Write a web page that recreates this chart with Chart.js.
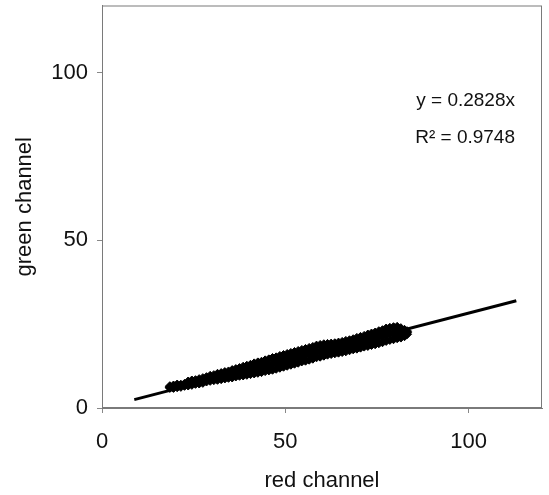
<!DOCTYPE html>
<html>
<head>
<meta charset="utf-8">
<script src="https://cdn.jsdelivr.net/npm/chart.js@4.4.1/dist/chart.umd.min.js"></script>
<style>
  html, body { margin: 0; padding: 0; background: #fff; }
  canvas { display: block; }
</style>
</head>
<body>
<canvas id="rgChart" width="549" height="495"></canvas>
<script>
// pixel clusters: red value, and lower / middle / upper green values
const redValues = [
  18.5, 19.5, 20.5, 21.5, 22.5, 23.5, 24.5, 25.5, 26.5, 27.5,
  28.5, 29.5, 30.5, 31.5, 32.5, 33.5, 34.5, 35.5, 36.5, 37.5,
  38.5, 39.5, 40.5, 41.5, 42.5, 43.5, 44.5, 45.5, 46.5, 47.5,
  48.5, 49.5, 50.5, 51.5, 52.5, 53.5, 54.5, 55.5, 56.5, 57.5,
  58.5, 59.5, 60.5, 61.5, 62.5, 63.5, 64.5, 65.5, 66.5, 67.5,
  68.5, 69.5, 70.5, 71.5, 72.5, 73.5, 74.5, 75.5, 76.5, 77.5,
  78.5, 79.5, 80.5, 81.5, 82.5, 83.2
];
const greenLower = [
  6.0, 6.0, 6.2, 6.3, 6.6, 6.7, 6.9, 7.2, 7.3, 7.5,
  7.9, 8.1, 8.3, 8.4, 8.6, 8.8, 9.0, 9.1, 9.4, 9.6,
  9.7, 9.9, 10.1, 10.3, 10.5, 10.7, 11.0, 11.2, 11.4, 11.7,
  12.0, 12.3, 12.6, 12.9, 13.2, 13.5, 13.9, 14.1, 14.4, 14.7,
  15.1, 15.3, 15.6, 15.9, 16.1, 16.3, 16.5, 16.7, 16.9, 17.2,
  17.5, 17.7, 18.0, 18.3, 18.5, 18.8, 19.0, 19.3, 19.6, 20.0,
  20.3, 20.5, 20.8, 21.0, 21.4, 22.0
];
const greenMiddle = [
  6.2, 6.5, 6.5, 6.8, 6.9, 7.4, 7.6, 7.7, 8.1, 8.2,
  8.7, 8.8, 9.2, 9.4, 9.6, 9.8, 10.1, 10.2, 10.6, 10.8,
  11.0, 11.3, 11.6, 11.8, 12.1, 12.4, 12.6, 12.8, 13.2, 13.4,
  13.8, 14.0, 14.4, 14.7, 15.0, 15.3, 15.6, 15.9, 16.2, 16.5,
  16.8, 17.0, 17.3, 17.5, 17.7, 17.9, 18.0, 18.2, 18.5, 18.7,
  19.0, 19.3, 19.6, 19.9, 20.2, 20.5, 20.8, 21.2, 21.5, 21.9,
  22.1, 22.3, 22.4, 22.3, 22.4, 22.5
];
const greenUpper = [
  6.5, 6.7, 7.0, 6.9, 7.2, 7.9, 8.2, 8.3, 8.6, 8.9,
  9.2, 9.6, 9.8, 10.2, 10.4, 10.7, 10.9, 11.3, 11.6, 11.9,
  12.3, 12.6, 12.9, 13.3, 13.6, 13.8, 14.2, 14.5, 14.9, 15.1,
  15.5, 15.8, 16.1, 16.4, 16.7, 17.0, 17.3, 17.6, 17.9, 18.2,
  18.6, 18.8, 19.0, 19.1, 19.2, 19.3, 19.5, 19.7, 20.0, 20.2,
  20.5, 20.9, 21.2, 21.5, 21.9, 22.2, 22.5, 22.9, 23.2, 23.7,
  23.9, 24.1, 24.2, 23.8, 23.3, 22.9
];

// trend line end points (y = 0.2828x)
const trendRed = [8.8, 113];
const trendGreen = [2.49, 31.96];

const axisTicks = [0, 50, 100];
const equationText = "y = 0.2828x";
const rSquaredText = "R\u00B2 = 0.9748";

const FONT = "'Liberation Sans', Arial, sans-serif";

const points = [];
redValues.forEach((r, i) => {
  points.push({ x: r, y: greenLower[i] });
  points.push({ x: r, y: greenMiddle[i] });
  points.push({ x: r, y: greenUpper[i] });
});

const trendPoints = trendRed.map((r, i) => ({ x: r, y: trendGreen[i] }));

const framePlugin = {
  id: "frame",
  afterDraw(chart) {
    const { ctx, chartArea: a } = chart;
    ctx.save();
    ctx.strokeStyle = "#7a7a7a";
    ctx.lineWidth = 1;
    ctx.strokeRect(a.left + 0.5, a.top + 0.5, a.right - a.left - 1, a.bottom - a.top - 1);

    ctx.fillStyle = "#111";
    ctx.font = "19px " + FONT;
    ctx.textAlign = "right";
    ctx.textBaseline = "middle";
    ctx.fillText(equationText, a.right - 27, a.top + 95);
    ctx.fillText(rSquaredText, a.right - 27, a.top + 132);
    ctx.restore();
  },
};

function keepTicks(scale) {
  scale.ticks = scale.ticks.filter((t) => axisTicks.includes(t.value));
}

const ctx = document.getElementById("rgChart").getContext("2d");
new Chart(ctx, {
  type: "scatter",
  data: {
    datasets: [
      {
        data: points,
        pointStyle: "rectRot",
        pointRadius: 4.5,
        backgroundColor: "#000",
        borderColor: "#000",
        borderWidth: 1,
      },
      {
        data: trendPoints,
        showLine: true,
        borderColor: "#000",
        borderWidth: 3,
        pointRadius: 0,
      },
    ],
  },
  options: {
    responsive: false,
    animation: false,
    layout: { padding: { top: 5, right: 7, left: 0, bottom: 0 } },
    plugins: {
      legend: { display: false },
      tooltip: { enabled: false },
    },
    scales: {
      x: {
        type: "linear",
        min: 0,
        max: 120,
        afterFit: (s) => { s.height = 87; s.paddingLeft = 0; s.paddingRight = 0; },
        afterBuildTicks: keepTicks,
        ticks: { stepSize: 50, color: "#111", padding: 16, font: { family: FONT, size: 22 } },
        grid: { drawOnChartArea: false, drawTicks: true, tickLength: 5, color: "#888" },
        border: { display: true, color: "#7a7a7a" },
        title: {
          display: true,
          text: "red channel",
          color: "#111",
          padding: { top: 0, bottom: 1 },
          font: { family: FONT, size: 22 },
        },
      },
      y: {
        type: "linear",
        min: 0,
        max: 120,
        afterFit: (s) => { s.width = 102; s.paddingTop = 0; s.paddingBottom = 0; },
        afterBuildTicks: keepTicks,
        ticks: { stepSize: 50, color: "#111", padding: 9, font: { family: FONT, size: 22 } },
        grid: { drawOnChartArea: false, drawTicks: true, tickLength: 5, color: "#888" },
        border: { display: true, color: "#7a7a7a" },
        title: {
          display: true,
          text: "green channel",
          color: "#111",
          padding: { top: 12, bottom: 0 },
          font: { family: FONT, size: 22 },
        },
      },
    },
  },
  plugins: [framePlugin],
});
</script>
</body>
</html>
